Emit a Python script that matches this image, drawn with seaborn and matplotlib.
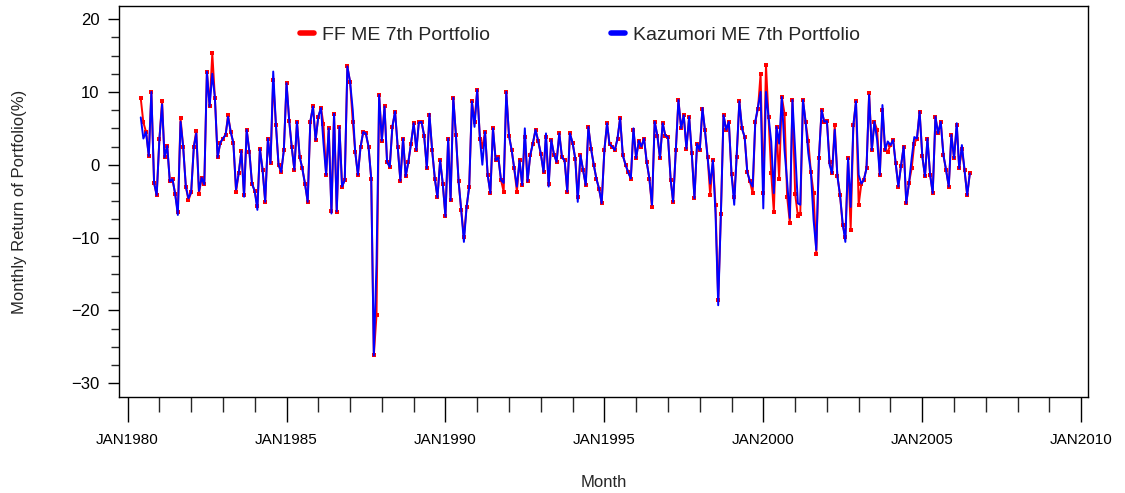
import numpy as np
import pandas as pd
import matplotlib
matplotlib.use("Agg")
import matplotlib.pyplot as plt
import matplotlib.dates as mdates
from matplotlib.lines import Line2D
from matplotlib.ticker import MultipleLocator
import seaborn as sns

# Monthly returns (%) of the 7th size portfolio, Jun 1980 - Jul 2006
start_month = "1980-06-01"

ff_me7 = [
    9.1, 5.8, 4.5, 1.2, 10.0, -2.5, -4.2,                                  # 1980 Jun-Dec
    3.5, 8.7, 1.0, 2.6, -2.3, -2.0, -4.0, -6.5, 6.4, 2.5, -3.0, -4.9,      # 1981
    -3.8, 2.5, 4.7, -4.0, -1.8, -2.7, 12.8, 8.0, 15.3, 9.2, 1.0, 3.0,      # 1982
    3.6, 4.1, 6.8, 4.5, 3.0, -3.7, -1.2, 1.9, -4.2, 4.8, 1.8, -2.6,        # 1983
    -3.6, -5.7, 2.2, -0.7, -5.1, 3.6, 0.2, 11.6, 5.5, 0.0, -1.0, 2.0,      # 1984
    11.2, 6.0, 2.5, -0.7, 5.9, 1.1, -0.5, -2.6, -5.1, 5.9, 8.0, 3.4,       # 1985
    6.6, 7.8, 5.6, -1.4, 5.0, -6.4, 7.0, -6.5, 5.2, -3.0, -2.1, 13.5,      # 1986
    11.4, 5.9, 1.8, -1.4, 2.4, 4.5, 4.3, 2.5, -1.9, -26.2, -20.6, 9.6,     # 1987
    3.3, 8.0, 0.4, -0.3, 5.2, 7.3, 2.5, -2.2, 3.6, -1.6, 0.4, 2.9,         # 1988
    5.7, 2.0, 5.8, 5.9, 4.0, -0.5, 6.8, 2.0, -1.9, -4.5, 0.6, -2.6,        # 1989
    -7.1, 3.6, -4.9, 9.2, 4.1, -2.3, -6.2, -9.9, -5.8, -3.0, 8.7, 5.9,     # 1990
    10.3, 3.6, 2.5, 4.5, -1.4, -3.9, 5.0, 0.6, 1.0, -2.1, -3.7, 10.0,      # 1991
    4.0, 2.0, -0.5, -3.7, 0.6, -2.8, 3.8, -2.3, 1.3, 2.9, 4.8, 3.3,        # 1992
    1.5, -1.0, 3.8, -2.6, 3.4, 1.4, 0.4, 4.3, 1.0, 0.6, -3.7, 4.3,         # 1993
    3.0, 0.8, -4.4, 1.3, -0.7, -2.8, 5.2, 2.2, 0.0, -1.9, -3.3, -5.3,      # 1994
    2.0, 5.7, 2.8, 2.5, 2.0, 3.6, 6.4, 1.3, 0.0, -1.0, -1.9, 4.8,          # 1995
    0.9, 3.3, 2.5, 3.6, 0.4, -1.9, -5.8, 5.9, 4.0, 0.9, 5.7, 4.0,          # 1996
    3.8, -2.1, -5.1, 2.0, 8.9, 5.0, 6.8, 2.2, 6.6, 1.6, -4.6, 2.9,         # 1997
    2.0, 7.7, 4.8, 1.1, -4.2, 0.6, -5.5, -18.6, -6.7, 6.8, 4.8, 5.9,       # 1998
    -1.3, -4.4, 1.1, 8.7, 5.0, 3.8, -1.0, -2.3, -3.9, 5.9, 7.7, 12.5,      # 1999
    -3.9, 13.7, 6.6, -1.2, -6.5, 5.2, -2.0, 9.3, 7.0, -4.4, -8.0, 8.9,     # 2000
    -4.0, -7.0, -6.7, 8.9, 5.9, 3.2, -1.0, -3.9, -12.2, 0.9, 7.5, 5.9,     # 2001
    6.0, 0.4, -1.2, 5.4, -1.5, -4.2, -8.3, -9.9, 0.9, -8.9, 5.4, 8.7,      # 2002
    -5.5, -2.6, -2.1, -0.5, 9.8, 2.0, 5.9, 4.8, -1.4, 7.5, 2.0, 1.8,       # 2003
    2.7, 3.4, 0.2, -3.0, -0.2, 2.5, -5.3, -2.5, -0.5, 2.9, 3.6, 7.3,       # 2004
    1.2, -1.6, 3.6, -1.4, -3.9, 6.6, 4.3, 5.9, 1.3, -0.7, -3.0, 4.1,       # 2005
    0.9, 5.4, -0.5, 2.2, -0.7, -4.2, -1.2,                                 # 2006 Jan-Jul
]

kazumori_me7 = [
    6.5, 3.6, 4.5, 1.2, 10.0, -2.5, -4.2,                                  # 1980 Jun-Dec
    3.5, 8.3, 1.0, 2.6, -2.3, -2.0, -4.0, -6.9, 5.9, 2.5, -3.0, -4.6,      # 1981
    -3.8, 2.5, 4.3, -3.6, -1.8, -2.7, 12.8, 8.0, 12.5, 9.2, 1.0, 3.0,      # 1982
    3.6, 4.1, 6.6, 4.5, 3.0, -3.4, -1.2, 1.9, -4.4, 4.8, 1.8, -2.6,        # 1983
    -3.6, -6.2, 2.2, -0.7, -5.1, 3.6, 0.2, 12.8, 5.5, 0.0, -1.0, 2.0,      # 1984
    11.2, 6.0, 2.5, -0.7, 5.9, 1.1, -0.5, -2.6, -5.1, 5.9, 8.0, 3.4,       # 1985
    6.6, 7.8, 3.0, -1.4, 5.0, -6.7, 7.0, -6.4, 5.2, -3.0, -2.1, 13.5,      # 1986
    11.4, 7.5, 1.8, -1.4, 2.4, 4.5, 4.3, 2.5, -1.9, -26.2, -13.5, 9.6,     # 1987
    3.3, 8.0, 0.4, -0.3, 5.2, 7.3, 2.5, -2.2, 3.6, -1.6, 0.4, 2.9,         # 1988
    5.7, 2.0, 5.8, 5.9, 4.0, -0.5, 7.0, 2.0, -1.9, -4.5, 0.6, -2.6,        # 1989
    -7.1, 3.6, -4.9, 9.2, 4.1, -2.3, -6.2, -10.6, -5.8, -3.0, 8.7, 5.2,    # 1990
    10.3, 3.6, 0.0, 4.5, -1.4, -3.9, 5.0, 0.6, 1.0, -2.1, -2.5, 10.0,      # 1991
    4.0, 2.0, -0.5, -3.0, 0.6, -2.8, 5.0, -2.3, 1.3, 2.9, 4.8, 3.3,        # 1992
    1.5, -1.0, 4.3, -3.0, 3.4, 1.4, 0.4, 4.3, 1.0, 0.6, -3.7, 4.3,         # 1993
    3.0, 0.8, -5.1, 1.3, -0.7, -2.8, 5.2, 2.2, 0.0, -1.9, -3.3, -5.3,      # 1994
    2.0, 5.7, 2.8, 2.5, 2.0, 3.6, 6.4, 1.3, 0.0, -1.0, -1.9, 5.0,          # 1995
    0.9, 3.3, 2.5, 3.6, 0.4, -1.9, -5.5, 5.9, 4.0, 0.9, 5.7, 4.0,          # 1996
    3.8, -2.1, -5.1, 2.0, 8.9, 5.0, 6.8, 2.2, 6.6, 1.6, -4.6, 2.9,         # 1997
    2.0, 7.8, 4.8, 1.1, -2.6, 0.6, -6.7, -19.3, -6.7, 6.8, 4.8, 5.9,       # 1998
    -1.3, -5.5, 1.1, 8.7, 5.0, 3.8, -1.0, -2.3, -3.0, 5.9, 8.0, 10.0,      # 1999
    -6.0, 10.0, 6.6, 3.2, -3.9, 5.2, 2.9, 9.3, 2.0, -2.3, -7.3, 8.9,       # 2000
    2.0, -5.3, -5.5, 8.9, 5.9, 1.6, -1.0, -7.6, -11.7, 0.9, 7.5, 5.9,      # 2001
    6.0, 0.0, -1.2, 4.8, -1.5, -4.2, -8.0, -10.6, 0.9, -5.8, 5.4, 8.7,     # 2002
    -1.4, -2.6, -2.1, -0.5, 9.6, 2.0, 5.9, 3.4, -1.4, 8.2, 2.0, 3.2,       # 2003
    2.7, 3.4, 0.2, -3.0, -0.2, 2.5, -5.3, -2.5, 0.9, 3.8, 3.6, 7.3,        # 2004
    1.2, -1.6, 3.6, -1.4, -3.9, 6.6, 4.3, 5.9, 1.3, -0.7, -3.0, 4.1,       # 2005
    0.9, 5.7, -0.5, 2.7, -0.7, -4.2, -1.2,                                 # 2006 Jan-Jul
]

series_labels = ["FF ME 7th Portfolio", "Kazumori ME 7th Portfolio"]
y_ticks = [-30, -20, -10, 0, 10, 20]

months = pd.date_range(start_month, periods=len(kazumori_me7), freq="MS")
df = pd.DataFrame({"Month": months, "FF": ff_me7, "Kazumori": kazumori_me7})

sns.set_style("ticks")
plt.rcParams["font.family"] = ["Liberation Sans Narrow", "Liberation Sans", "DejaVu Sans"]
plt.rcParams["axes.unicode_minus"] = True

fig = plt.figure(figsize=(11.25, 4.93), dpi=100)
ax = fig.add_axes([119 / 1125, 96 / 493, (1088 - 119) / 1125, 391 / 493])

# red series underneath (dots at every month), blue joined line on top
sns.lineplot(data=df, x="Month", y="FF", ax=ax, color="#ff0000", lw=1.4,
             marker="s", markersize=3.2, markeredgewidth=0)
sns.lineplot(data=df, x="Month", y="Kazumori", ax=ax, color="#0000ff", lw=1.4)

ax.set_xlim(pd.Timestamp("1979-09-25"), pd.Timestamp("2010-03-20"))
ax.set_ylim(-31.9, 21.8)

ax.xaxis.set_major_locator(mdates.YearLocator(5))
ax.xaxis.set_minor_locator(mdates.YearLocator(1))
ax.xaxis.set_major_formatter(mdates.DateFormatter("JAN%Y"))
ax.set_yticks(y_ticks)
ax.yaxis.set_minor_locator(MultipleLocator(2.5))

ax.tick_params(axis="x", which="major", direction="out", length=18, width=1, pad=8,
               labelsize=11, colors="black")
ax.tick_params(axis="x", which="minor", direction="out", length=11, width=1)
ax.tick_params(axis="y", which="major", direction="out", length=8, width=1, pad=6,
               labelsize=12, colors="black")
ax.tick_params(axis="y", which="minor", direction="out", length=6, width=1)

for sp in ax.spines.values():
    sp.set_color("black")
    sp.set_linewidth(1)

ax.set_xlabel("Month", fontsize=12, labelpad=20)
ax.set_ylabel("Monthly Return of Portfolio(%)", fontsize=12, labelpad=32)

handles = [Line2D([], [], color="#ff0000", lw=4),
           Line2D([], [], color="#0000ff", lw=4)]
fig.legend(handles, series_labels, loc="upper left", bbox_to_anchor=(300 / 1125, 467 / 493),
           ncol=2, frameon=False, handlelength=0.7, handletextpad=0.45,
           columnspacing=6.2, borderpad=0, borderaxespad=0,
           prop={"family": ["Liberation Sans", "DejaVu Sans"], "size": 14})

fig.savefig("out.png", dpi=100)
